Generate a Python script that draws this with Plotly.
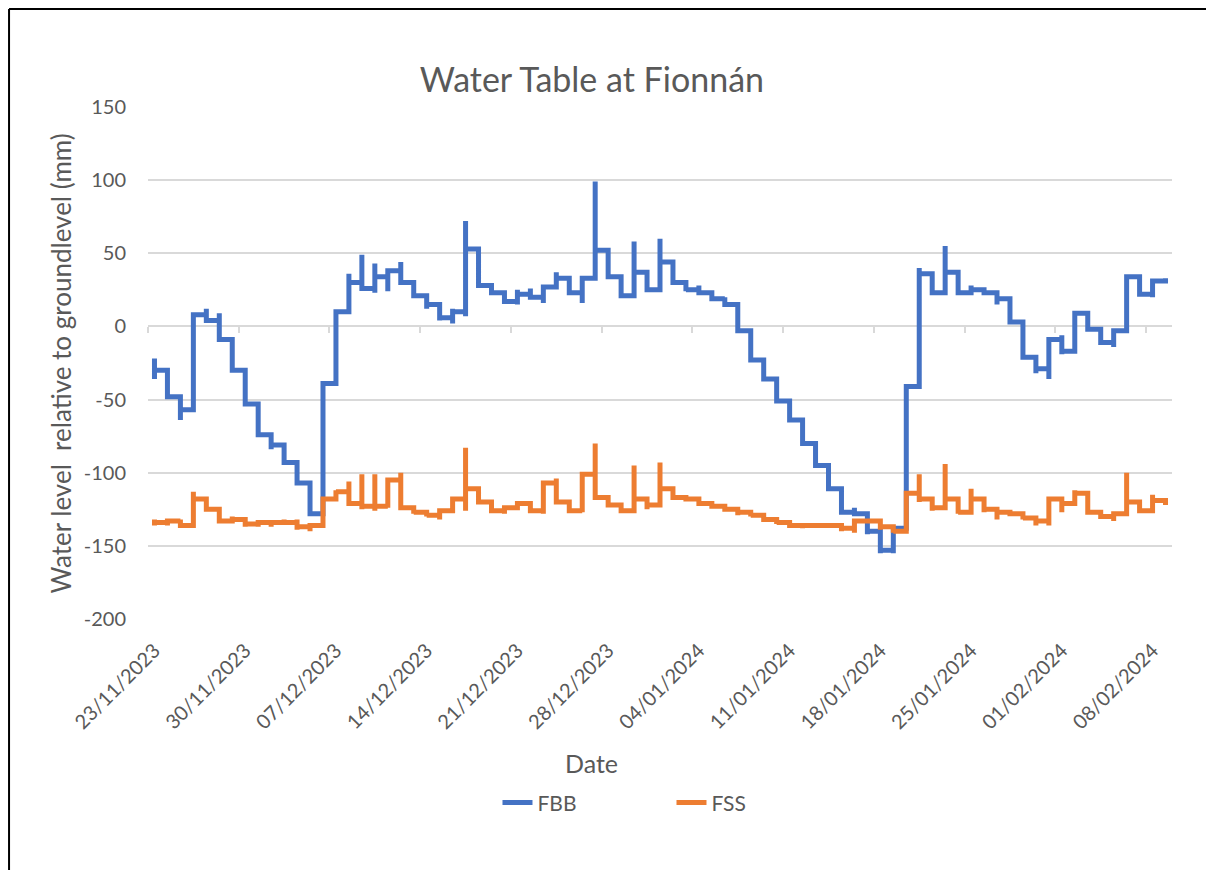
import pandas as pd
import plotly.graph_objects as go

"""Water Table at Fionnán - daily logger readings, FBB and FSS wells"""

# one slot per day, 23/11/2023 - 09/02/2024
dates = pd.date_range("2023-11-23", "2024-02-09", freq="D")

# FBB: level held at the end of each day, plus the day's high / low reading (None = no spike)
fbb_level = [-30, -48, -57, 8, 4, -9, -30, -53, -74, -81,
             -93, -107, -128, -39, 10, 30, 26, 34, 38, 30,
             21, 15, 6, 10, 53, 28, 23, 17, 22, 20,
             27, 33, 23, 33, 52, 34, 21, 37, 25, 44,
             30, 25, 23, 19, 15, -3, -23, -36, -51, -64,
             -80, -95, -111, -127, -128, -140, -153, -138, -41, 36,
             23, 37, 23, 25, 23, 19, 3, -21, -29, -9,
             -17, 9, -2, -11, -3, 34, 22, 31, 30]
fbb_high = [-22, None, None, None, 12, 9, None, None, None, None,
            None, None, None, None, None, 36, 49, 43, None, 44,
            None, None, None, 12, 72, None, None, None, 25, 26,
            None, 37, None, None, 99, None, None, 58, None, 60,
            None, None, 28, None, 20, None, None, None, None, None,
            None, None, None, None, -124, None, None, None, None, 40,
            None, 55, None, 28, None, None, None, None, None, None,
            -6, None, None, None, None, None, None, None, 33]
fbb_low = [-36, None, -64, None, None, None, None, None, None, -84,
           None, None, None, None, None, None, None, 23, 24, None,
           None, 12, 4, 2, 7, None, None, None, 15, None,
           16, None, None, 16, None, None, None, None, None, 24,
           None, 24, None, None, None, None, None, None, None, None,
           None, None, None, None, None, -142, -155, -155, None, None,
           None, None, None, None, None, 15, None, None, -32, -36,
           -19, None, None, None, -14, None, None, 20, None]

# FSS
fss_level = [-134, -133, -136, -118, -125, -133, -132, -135, -134, -134,
             -134, -137, -136, -118, -113, -121, -123, -123, -105, -124,
             -127, -129, -126, -118, -111, -120, -126, -124, -121, -126,
             -107, -120, -126, -101, -117, -122, -126, -118, -122, -111,
             -117, -118, -121, -123, -125, -127, -129, -132, -134, -136,
             -136, -136, -136, -138, -133, -133, -137, -140, -114, -118,
             -124, -118, -127, -118, -125, -127, -128, -131, -133, -118,
             -121, -114, -127, -130, -128, -120, -126, -119, -120]
fss_high = [-132, None, -132, -113, None, None, -130, None, None, None,
            -132, -132, None, None, -112, -106, -101, -101, None, -100,
            None, None, None, None, -83, None, None, None, None, None,
            None, -104, None, None, -80, None, None, -95, None, -93,
            None, None, -118, None, None, None, None, None, None, None,
            None, None, None, None, None, None, None, None, None, -101,
            None, -94, None, -111, None, None, None, None, None, None,
            None, -112, None, None, None, -100, None, -115, None]
fss_low = [-136, -136, None, None, None, None, None, -137, -137, -137,
           None, -139, -140, None, None, None, -125, -126, -124, None,
           -128, -130, -132, None, -126, None, None, -128, None, None,
           -128, None, None, -127, None, None, None, None, -125, None,
           None, None, None, None, None, -129, -130, None, -135, None,
           -138, None, None, -140, -141, None, -139, -141, None, -120,
           -126, None, -128, None, -127, -132, None, -132, -136, -136,
           -127, None, None, None, -133, None, None, None, -122]

tick_labels = ["23/11/2023", "30/11/2023", "07/12/2023", "14/12/2023",
               "21/12/2023", "28/12/2023", "04/01/2024", "11/01/2024",
               "18/01/2024", "25/01/2024", "01/02/2024", "08/02/2024"]
y_ticks = [150, 100, 50, 0, -50, -100, -150, -200]


def day_path(level, high, low):
    # all readings of one day sit on the same x, so each day becomes a vertical run
    xs, ys = [], []
    prev = level[0]
    for d, lv, hi, lo in zip(dates, level, high, low):
        pts = [prev] + [v for v in (hi, lo) if v is not None] + [lv]
        xs += [d] * len(pts)
        ys += pts
        prev = lv
    return xs, ys


font = "Lato"
grey = "#595959"
tick_pos = pd.to_datetime(tick_labels, format="%d/%m/%Y")
half_day = pd.Timedelta(hours=12)
x_range = [dates[0] - half_day, dates[-1] + half_day]

fig = go.Figure()
x, y = day_path(fbb_level, fbb_high, fbb_low)
fig.add_trace(go.Scatter(x=x, y=y, mode="lines", name="FBB",
                         line=dict(color="#4472C4", width=5)))
x, y = day_path(fss_level, fss_high, fss_low)
fig.add_trace(go.Scatter(x=x, y=y, mode="lines", name="FSS", xaxis="x2",
                         line=dict(color="#ED7D31", width=5)))

# page body keeps an 8px margin, so the figure is 8px smaller and shifted
fig.update_layout(
    width=1206, height=862,
    margin=dict(l=140, r=42, t=99, b=251),
    plot_bgcolor="white", paper_bgcolor="white",
    font=dict(family=font, color=grey),
    title=dict(text="Water Table at Fionnán", x=0.4842, xref="container",
               y=0.9165, yref="container", xanchor="center", yanchor="middle",
               font=dict(size=34, color=grey)),
    xaxis=dict(type="date", range=x_range, showgrid=False, zeroline=False,
               tickvals=tick_pos, ticktext=tick_labels, tickangle=-45,
               tickfont=dict(size=20, color=grey), ticks="", ticklabelstandoff=15),
    # horizontal axis crosses at 0, labels stay low
    xaxis2=dict(type="date", range=x_range, overlaying="x", anchor="free",
                position=200 / 350, showgrid=False, showticklabels=False,
                showline=True, linecolor="#d9d9d9", linewidth=1.5,
                ticks="outside", ticklen=6, tickwidth=1.5, tickcolor="#d9d9d9",
                tickvals=tick_pos - half_day, layer="below traces"),
    yaxis=dict(range=[-200, 150], tickvals=y_ticks, ticktext=[str(v) for v in y_ticks],
               showgrid=True, gridcolor="#d9d9d9", gridwidth=1.5, zeroline=False,
               ticks="", ticklabelstandoff=21, tickfont=dict(size=20, color=grey)),
    legend=dict(orientation="h", x=0.3413, xanchor="left", y=-0.359,
                yanchor="middle", font=dict(size=21, color=grey), entrywidth=129),
    annotations=[
        dict(text="Date", x=0.433, y=-0.281, xref="paper", yref="paper",
             xanchor="center", yanchor="middle", showarrow=False,
             font=dict(size=25, color=grey)),
        dict(text="Water level  relative to groundlevel (mm)", x=-0.0845, y=0.5,
             xref="paper", yref="paper", xanchor="center", yanchor="middle",
             textangle=-90, showarrow=False, font=dict(size=26, color=grey)),
    ],
    shapes=[
        dict(type="line", xref="paper", yref="paper", x0=-0.1357, x1=1.05,
             y0=1.1914, y1=1.1914, line=dict(color="black", width=2)),
        dict(type="line", xref="paper", yref="paper", x0=-0.1357, x1=-0.1357,
             y0=-0.5, y1=1.1914, line=dict(color="black", width=2)),
    ],
)

fig.write_html("out.html")
